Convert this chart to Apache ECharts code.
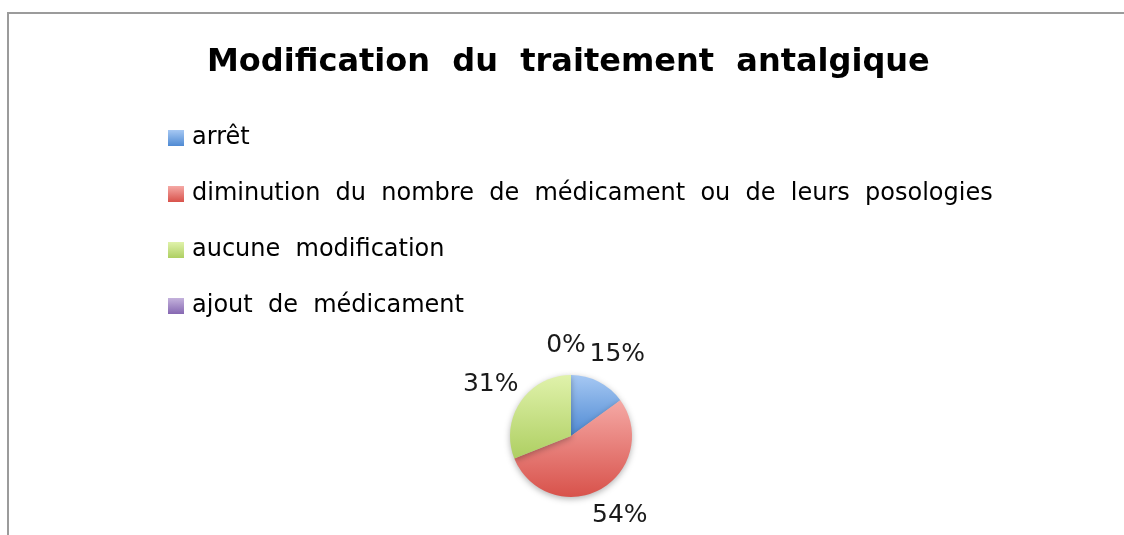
<!DOCTYPE html>
<html>
<head>
<meta charset="utf-8">
<script src="https://cdn.jsdelivr.net/npm/echarts@6/dist/echarts.min.js"></script>
<style>
  html, body { margin: 0; padding: 0; background: #ffffff; }
  #chart { width: 1124px; height: 535px; }
</style>
</head>
<body>
<div id="chart"></div>
<script>
// Categories and their shares (percent)
const categories = [
  'arrêt',
  'diminution du nombre de médicament ou de leurs posologies',
  'aucune modification',
  'ajout de médicament'
];
const shares = [15, 54, 31, 0];

// Slice fills: light (top) to dark (bottom)
const lightColors = ['#a6c8f3', '#f5a9a5', '#e0f2ab', '#c4b2dc'];
const darkColors  = ['#4f8ad3', '#d8524b', '#aecf62', '#8668b2'];

const titleText = 'Modification du traitement antalgique';
const textFont = '"DejaVu Sans", "Noto Sans", sans-serif';

// Wide word spacing, as in the document style
const widen = s => s.replace(/ /g, '  ');

const chart = echarts.init(document.getElementById('chart'), null, { renderer: 'canvas' });

const pieData = categories.map((name, i) => ({
  name: name,
  value: shares[i],
  itemStyle: {
    color: new echarts.graphic.LinearGradient(0, 0, 0, 1, [
      { offset: 0, color: lightColors[i] },
      { offset: 1, color: darkColors[i] }
    ])
  }
}));

chart.setOption({
  backgroundColor: '#ffffff',
  animation: false,
  graphic: [{
    type: 'rect',
    shape: { x: 8, y: 13, width: 1200, height: 600 },
    style: { fill: 'none', stroke: '#9b9b9b', lineWidth: 2 },
    silent: true,
    z: -1
  }],
  title: {
    text: widen(titleText),
    left: 207,
    top: 41,
    padding: 0,
    textStyle: {
      fontFamily: textFont,
      fontSize: 32,
      fontWeight: 'bold',
      color: '#000000',
      lineHeight: 44
    }
  },
  legend: {
    orient: 'vertical',
    left: 168,
    top: 126,
    padding: 0,
    icon: 'rect',
    itemWidth: 16,
    itemHeight: 16,
    itemGap: 32,
    selectedMode: false,
    data: categories,
    formatter: name => widen(name),
    textStyle: {
      fontFamily: textFont,
      fontSize: 24,
      color: '#000000',
      lineHeight: 24,
      padding: [0, 0, 0, 3]
    }
  },
  series: [{
    type: 'pie',
    center: [571, 436],
    radius: 61,
    startAngle: 90,
    clockwise: true,
    avoidLabelOverlap: false,
    data: pieData,
    itemStyle: {
      shadowBlur: 6,
      shadowOffsetY: 2,
      shadowColor: 'rgba(0,0,0,0.3)'
    },
    label: {
      show: true,
      position: 'outside',
      formatter: '{d}%',
      fontFamily: textFont,
      fontSize: 25,
      color: '#1a1a1a'
    },
    labelLine: { show: false, length: 30, length2: 0 },
    labelLayout: function () {
      return { align: 'center', verticalAlign: 'middle' };
    },
    emphasis: { disabled: true }
  }]
});
</script>
</body>
</html>
